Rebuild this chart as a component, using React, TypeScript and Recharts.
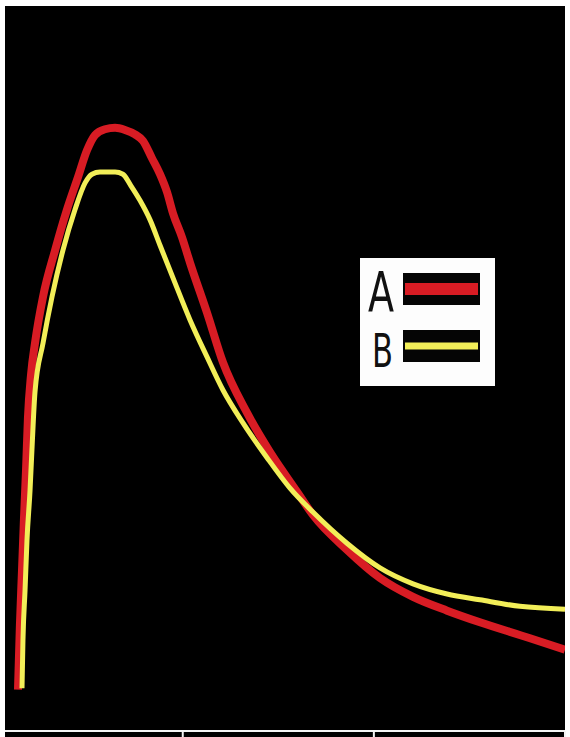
import React from "react";
import { Legend, Line, LineChart, XAxis, YAxis } from "recharts";

// time axis (s) and intensity readings for the two traces
const aTime = [
  0.138, 0.148, 0.159, 0.169, 0.18, 0.19, 0.206, 0.227, 0.269, 0.332, 0.394, 0.452, 0.499, 0.541, 0.593, 0.646,
  0.698, 0.75, 0.792, 0.839, 0.881, 0.918, 0.949, 0.996, 1.038, 1.127, 1.211, 1.336, 1.456, 1.598, 1.681, 1.859,
  2.032, 2.205, 2.383, 2.555, 2.817, 3.0
];
const aValue = [
  5.7, 14.6, 22.2, 29.1, 36.0, 43.2, 49.1, 53.5, 59.9, 66.3, 71.9, 76.4, 80.1, 82.2, 83.0, 83.2, 82.9, 82.3, 81.4,
  79.0, 76.8, 74.3, 71.4, 68.1, 64.6, 57.7, 50.8, 43.9, 38.5, 33.0, 29.8, 25.0, 21.1, 18.5, 16.6, 15.0, 12.8, 11.2
];
const bTime = [
  0.159, 0.164, 0.175, 0.185, 0.201, 0.211, 0.227, 0.269, 0.316, 0.373, 0.436, 0.489, 0.525, 0.567, 0.646, 0.687,
  0.729, 0.776, 0.829, 0.881, 0.949, 1.038, 1.127, 1.211, 1.315, 1.441, 1.561, 1.681, 1.859, 2.032, 2.205, 2.383,
  2.555, 2.764, 3.0
];
const bValue = [
  5.9, 12.6, 19.5, 26.3, 33.2, 38.8, 46.8, 53.5, 59.9, 66.3, 71.9, 75.6, 76.8, 77.1, 77.1, 76.8, 75.2, 73.2, 70.5,
  67.0, 62.5, 56.7, 51.6, 47.0, 42.5, 37.7, 33.5, 30.2, 25.9, 22.5, 20.3, 18.9, 18.1, 17.2, 16.8
];
const xTicks = [1, 2, 3];

const seriesA = aTime.map((t, i) => ({ t, v: aValue[i] }));
const seriesB = bTime.map((t, i) => ({ t, v: bValue[i] }));

const RED = "#d81c24";
const YELLOW = "#f2ee58";

const renderLegend = (props: any) => {
  const payload = props.payload || [];
  return (
    <svg width={135} height={128} style={{ display: "block" }}>
      <rect x={0} y={0} width={135} height={128} fill="#fdfdfd" />
      {payload.map((entry: any, i: number) => {
        const top = i === 0 ? 15 : 72;
        const thick = i === 0 ? 12 : 7;
        return (
          <g key={entry.value}>
            <text
              x={i === 0 ? 8 : 12}
              y={i === 0 ? 53 : 109}
              fontFamily="'DejaVu Sans Condensed', 'Liberation Sans Narrow', sans-serif"
              fontSize={i === 0 ? 56 : 46}
              textLength={i === 0 ? 26 : 21}
              lengthAdjust="spacingAndGlyphs"
              fill="#111"
            >
              {entry.value}
            </text>
            <rect x={43} y={top} width={77} height={32} fill="#050505" />
            <rect x={45} y={top + 16 - thick / 2} width={73} height={thick} fill={entry.color} />
          </g>
        );
      })}
    </svg>
  );
};

export default function App() {
  return (
    <div style={{ position: "absolute", left: 0, top: 0, width: 570, height: 737, background: "#fff" }}>
      <div style={{ position: "absolute", left: 5, top: 6, width: 560, height: 731, background: "#000" }} />
      <div style={{ position: "absolute", left: 0, top: 0 }}>
        <LineChart width={570} height={737} margin={{ top: 6, right: 5, bottom: 0, left: 5 }}>
          <XAxis
            type="number"
            dataKey="t"
            domain={[0.07, 3.0]}
            ticks={xTicks}
            height={6}
            axisLine={{ stroke: "#f4f4f4", strokeWidth: 2 }}
            tickLine={{ stroke: "#f4f4f4", strokeWidth: 2 }}
            tickSize={8}
            tickFormatter={() => ""}
            allowDataOverflow
          />
          <YAxis hide type="number" domain={[0, 100]} />
          <Legend
            layout="vertical"
            align="center"
            verticalAlign="middle"
            content={renderLegend}
            wrapperStyle={{ position: "absolute", left: 360, top: 258, width: 135, height: 128 }}
          />
          <Line
            data={seriesA}
            dataKey="v"
            name="A"
            type="monotone"
            stroke={RED}
            strokeWidth={8}
            dot={false}
            isAnimationActive={false}
          />
          <Line
            data={seriesB}
            dataKey="v"
            name="B"
            type="monotone"
            stroke={YELLOW}
            strokeWidth={5}
            dot={false}
            isAnimationActive={false}
          />
        </LineChart>
      </div>
    </div>
  );
}
